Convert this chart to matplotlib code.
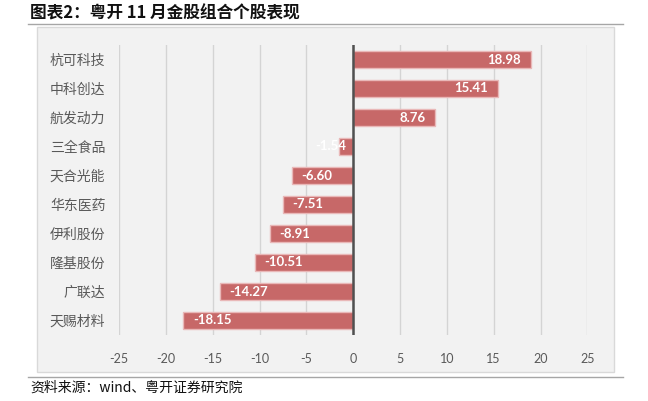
import matplotlib
matplotlib.use("Agg")
import matplotlib.pyplot as plt
from matplotlib.patches import Rectangle
from matplotlib.lines import Line2D

plt.rcParams['font.family'] = ['Noto Sans CJK SC', 'DejaVu Sans']

# data (top to bottom as shown)
stocks = ["杭可科技", "中科创达", "航发动力", "三全食品", "天合光能",
          "华东医药", "伊利股份", "隆基股份", "广联达", "天赐材料"]
returns = [18.98, 15.41, 8.76, -1.54, -6.60, -7.51, -8.91, -10.51, -14.27, -18.15]
xticks = [-25, -20, -15, -10, -5, 0, 5, 10, 15, 20, 25]

W, H = 648, 401
fig = plt.figure(figsize=(W / 100, H / 100), dpi=100)


def fx(px):
    return px / W


def fy(py):
    return 1 - py / H


# chart background box
fig.patches.append(Rectangle((fx(37), fy(372)), fx(614) - fx(37), fy(27) - fy(372),
                             transform=fig.transFigure, facecolor='#f2f2f2',
                             edgecolor='#d9d9d9', linewidth=1, zorder=-2))
# rules under title and above source
for yy in (24, 377):
    fig.lines.append(Line2D([fx(28), fx(623)], [fy(yy), fy(yy)], transform=fig.transFigure,
                            color='#a6a6a6', linewidth=1, zorder=-1))

fig.text(fx(30), fy(13), "图表2：粤开 11 月金股组合个股表现", fontsize=12, fontweight='bold',
         color='#111111', va='center', ha='left')
fig.text(fx(30), fy(388), "资料来源：wind、粤开证券研究院", fontsize=10, style='italic',
         color='#111111', va='center', ha='left')

ax = fig.add_axes([fx(119.3), fy(335), fx(587.3) - fx(119.3), fy(45) - fy(335)])
ax.set_zorder(2)
ax.patch.set_alpha(0)

pos = list(range(len(stocks)))
ax.barh(pos, returns, height=0.6, color='#c76868', edgecolor='#e9b8b8', linewidth=1, zorder=3)

for p, v in zip(pos, returns):
    if v >= 0:
        ax.annotate(f"{v:.2f}", (v, p), xytext=(-7, 0), textcoords='offset points',
                    ha='right', va='center', color='white', fontsize=9.5,
                    fontweight='bold', family='Lato', zorder=4)
    elif v > -3:
        ax.annotate(f"{v:.2f}", (0, p), xytext=(-5, 0), textcoords='offset points',
                    ha='right', va='center', color='white', fontsize=9.5,
                    fontweight='bold', family='Lato', zorder=4)
    else:
        ax.annotate(f"{v:.2f}", (v, p), xytext=(7, 0), textcoords='offset points',
                    ha='left', va='center', color='white', fontsize=9.5,
                    fontweight='bold', family='Lato', zorder=4)

ax.set_xlim(-25, 25)
ax.set_ylim(len(stocks) - 0.5, -0.5)
ax.set_xticks(xticks)
ax.set_xticklabels([str(t) for t in xticks], family='Lato', fontsize=9, color='#595959')
ax.set_yticks(pos)
ax.set_yticklabels(stocks, fontsize=10, color='#595959')
ax.tick_params(axis='x', length=0, pad=13)
ax.tick_params(axis='y', length=0, pad=10)
ax.grid(axis='x', color='#d4d4d4', linewidth=1, zorder=1)
ax.axvline(0, color='#505050', linewidth=1.8, zorder=5)
for s in ax.spines.values():
    s.set_visible(False)

fig.savefig("out.png", dpi=100)
